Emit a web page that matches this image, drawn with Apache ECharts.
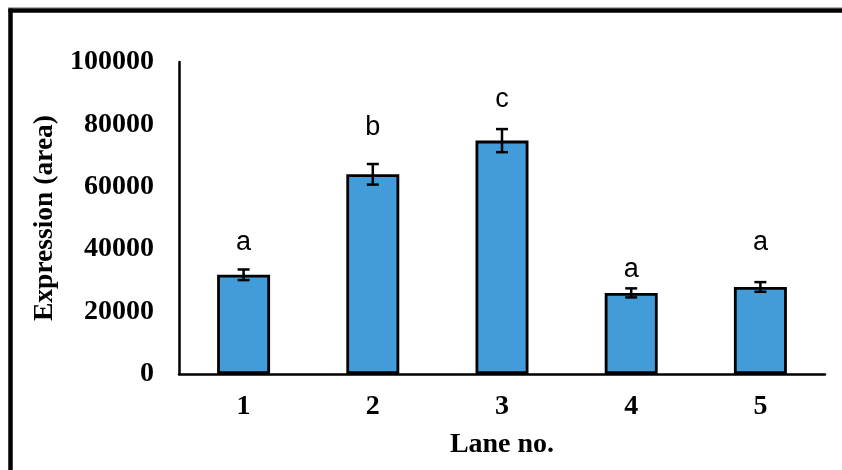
<!DOCTYPE html>
<html><head><meta charset="utf-8">
<script src="https://cdn.jsdelivr.net/npm/echarts@6/dist/echarts.min.js"></script>
<style>html,body{margin:0;padding:0;background:#fff}#c{width:842px;height:470px}</style>
</head><body><div id="c"></div>
<script>
var categories = ['1', '2', '3', '4', '5'];
var values = [31800, 64000, 74800, 26000, 27900];
var errors = [1700, 3300, 3700, 1450, 1550];
var letters = ['a', 'b', 'c', 'a', 'a'];
var letterLevels = [39600, 76600, 85500, 31200, 39700];
var yTicks = [0, 20000, 40000, 60000, 80000, 100000];

var chart = echarts.init(document.getElementById('c'), null, {renderer: 'canvas'});
var serif = '"Liberation Serif", "Times New Roman", serif';
var sans = '"Liberation Sans", Arial, sans-serif';

var errData = categories.map(function (c, i) {
  return [i, values[i] - errors[i], values[i] + errors[i], letterLevels[i]];
});

chart.setOption({
  animation: false,
  backgroundColor: '#fff',
  graphic: [
    {type: 'line', shape: {x1: 8, y1: 7.5, x2: 842, y2: 7.5}, style: {stroke: '#b0b0b0', lineWidth: 1}, z: 100},
    {type: 'line', shape: {x1: 8.5, y1: 10.5, x2: 842, y2: 10.5}, style: {stroke: '#000', lineWidth: 4.5}, z: 100},
    {type: 'line', shape: {x1: 10.5, y1: 8.5, x2: 10.5, y2: 470}, style: {stroke: '#000', lineWidth: 4.5}, z: 100}
  ],
  grid: {left: 179, right: 17, top: 62, bottom: 96, containLabel: false},
  xAxis: {
    type: 'category',
    data: categories,
    axisLine: {lineStyle: {color: '#000', width: 2.5}},
    axisTick: {show: false},
    axisLabel: {color: '#000', fontFamily: serif, fontWeight: 'bold', fontSize: 28, margin: 19},
    name: 'Lane no.',
    nameLocation: 'middle',
    nameGap: 57,
    nameTextStyle: {color: '#000', fontFamily: serif, fontWeight: 'bold', fontSize: 28}
  },
  yAxis: {
    type: 'value',
    min: yTicks[0],
    max: yTicks[yTicks.length - 1],
    interval: yTicks[1] - yTicks[0],
    axisLine: {show: true, lineStyle: {color: '#000', width: 2.5}},
    axisTick: {show: false},
    splitLine: {show: false},
    axisLabel: {color: '#000', fontFamily: serif, fontWeight: 'bold', fontSize: 28, margin: 25,
      formatter: function (v) { return String(v); }},
    name: 'Expression (area)',
    nameLocation: 'middle',
    nameGap: 119,
    nameTextStyle: {color: '#000', fontFamily: serif, fontWeight: 'bold', fontSize: 27.5}
  },
  series: [
    {
      type: 'bar',
      data: values,
      barWidth: '41%',
      itemStyle: {color: '#419cd9', borderColor: '#000', borderWidth: 2.8}
    },
    {
      type: 'custom',
      data: errData,
      z: 10,
      renderItem: function (params, api) {
        var x = api.value(0);
        var lo = api.coord([x, api.value(1)]);
        var hi = api.coord([x, api.value(2)]);
        var lt = api.coord([x, api.value(3)]);
        var cap = 6;
        var st = {stroke: '#000', lineWidth: 2.5};
        return {
          type: 'group',
          children: [
            {type: 'line', shape: {x1: hi[0], y1: hi[1], x2: lo[0], y2: lo[1]}, style: st},
            {type: 'line', shape: {x1: hi[0] - cap, y1: hi[1], x2: hi[0] + cap, y2: hi[1]}, style: st},
            {type: 'line', shape: {x1: lo[0] - cap, y1: lo[1], x2: lo[0] + cap, y2: lo[1]}, style: st},
            {type: 'text', style: {text: letters[params.dataIndex], x: lt[0], y: lt[1] + 6, align: 'center', verticalAlign: 'bottom', fontFamily: sans, fontSize: 27, fill: '#000'}}
          ]
        };
      }
    }
  ]
});
</script></body></html>
